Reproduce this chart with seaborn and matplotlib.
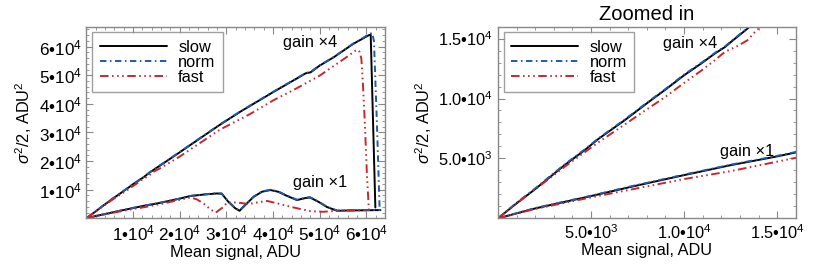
import numpy as np
import pandas as pd
import matplotlib
matplotlib.use("Agg")
import matplotlib.pyplot as plt
from matplotlib.ticker import FixedLocator, MultipleLocator, FuncFormatter
import seaborn as sns

# ---------------- data ----------------
# gain x4
x4_slow_x = [0, 1000, 2000, 3580, 4660, 5380, 6810, 8060, 8960, 10000, 10900, 11650, 12200, 12500,
             13300, 13600, 16000, 20000, 25000, 28600, 33000, 40000, 45000, 47000, 48000, 50000, 53000,
             57100, 59300, 60500, 60900, 61300, 61900]
x4_slow_y = [0, 1250, 2440, 4440, 5690, 6610, 8190, 9670, 10700, 11940, 12900, 13750, 14300, 14700,
             15700, 16100, 18700, 23100, 28700, 32700, 37300, 44100, 48800, 50700, 51000, 53400, 56300,
             60900, 62900, 64000, 64200, 40000, 3800]
x4_norm_x = [0, 1000, 2000, 3580, 4660, 5380, 6810, 8060, 8960, 10000, 10900, 11650, 12200, 12500,
             13300, 13600, 16000, 20000, 25000, 28600, 33000, 40000, 45000, 47000, 48000, 50000, 53000,
             57100, 59300, 60500, 61200, 61600, 62300, 62800]
x4_norm_y = [0, 1300, 2500, 4500, 5750, 6650, 8250, 9720, 10750, 12000, 12950, 13800, 14350, 14750,
             15750, 16150, 18800, 23200, 28800, 32800, 37400, 44200, 48900, 50800, 51100, 53500, 56400,
             61000, 63100, 64300, 64800, 62000, 30000, 3800]
x4_fast_x = [0, 1000, 2000, 3580, 5380, 6810, 8060, 8960, 10000, 10900, 11650, 12200, 12900, 13400,
             13800, 14200, 16000, 20000, 28600, 35000, 40000, 45000, 50000, 55700, 57300, 57900, 58500,
             58900, 59200, 59600, 60100, 60500]
x4_fast_y = [0, 1250, 2420, 4300, 6330, 7830, 9160, 10100, 11300, 12300, 13200, 13900, 14400, 14860,
             15550, 16100, 17700, 21600, 31000, 36400, 41200, 45400, 49900, 56300, 58200, 58900, 58200,
             55800, 48000, 35000, 15000, 3200]

# gain x1
x1_slow_x = [0, 2000, 5000, 7170, 10000, 12500, 14900, 16000, 20000, 22200, 25000, 27900, 29000,
             30400, 31900, 32800, 34000, 35800, 37600, 39400, 41100, 42900, 45100, 46900, 47900,
             49700, 51500, 53700, 56000, 63000]
x1_slow_y = [0, 830, 1860, 2640, 3610, 4440, 5140, 5500, 6900, 7800, 8300, 8700, 8600,
             5800, 3500, 2650, 4600, 7500, 9300, 9900, 9300, 7900, 6400, 7100, 7300,
             5800, 4000, 2650, 2750, 2900]
x1_norm_x = [0, 2000, 5000, 7170, 10000, 12500, 14900, 16000, 20000, 22200, 25000, 27900, 29000,
             30400, 31900, 32800, 34000, 35800, 37600, 39400, 41100, 42900, 45100, 46900, 47900,
             49700, 51500, 53700, 56000, 63000]
x1_norm_y = [0, 860, 1890, 2680, 3650, 4480, 5180, 5540, 6950, 7850, 8350, 8800, 8700,
             5900, 3600, 2750, 4700, 7600, 9400, 10000, 9400, 8000, 6500, 7200, 7400,
             5900, 4100, 2750, 2800, 2950]
x1_fast_x = [0, 2000, 5000, 10000, 12500, 16000, 20000, 22200, 23600, 25100, 26600, 27700, 29100,
             30200, 31500, 33000, 34700, 36700, 38700, 41500, 44400, 47900, 50700, 53700, 56000, 60500]
x1_fast_y = [0, 790, 1750, 3280, 3940, 5050, 6500, 7300, 6700, 5200, 3100, 2000, 3700,
             5600, 5600, 5400, 5000, 5600, 6100, 5000, 3800, 2550, 2300, 2650, 2800, 2900]

series_names = ["slow", "norm", "fast"]
left_ticks = [1e4, 2e4, 3e4, 4e4, 5e4, 6e4]
right_ticks = [5e3, 1e4, 1.5e4]

# ---------------- styling ----------------
sns.set_theme(style="white")
plt.rcParams["font.family"] = ["Liberation Sans", "DejaVu Sans"]
plt.rcParams["mathtext.fontset"] = "custom"
plt.rcParams["mathtext.rm"] = "Liberation Sans"
plt.rcParams["mathtext.it"] = "Liberation Sans:italic"
plt.rcParams["mathtext.bf"] = "Liberation Sans:bold"
plt.rcParams["text.color"] = "black"
plt.rcParams["axes.labelcolor"] = "black"
plt.rcParams["xtick.labelcolor"] = "black"
plt.rcParams["ytick.labelcolor"] = "black"

colors = {"slow": "#000000", "norm": "#1f5aa8", "fast": "#c8282c"}
styles = {"slow": "-",
          "norm": (0, (3.3, 1.8, 0.8, 1.8)),
          "fast": (0, (4.4, 1.8, 0.8, 1.8, 0.8, 1.8, 0.8, 1.8))}

curves = [
    ("slow", x1_slow_x, x1_slow_y), ("norm", x1_norm_x, x1_norm_y),
    ("fast", x1_fast_x, x1_fast_y),
    ("slow", x4_slow_x, x4_slow_y), ("norm", x4_norm_x, x4_norm_y),
    ("fast", x4_fast_x, x4_fast_y),
]

fig = plt.figure(figsize=(8.23, 2.74), dpi=100)
ax1 = fig.add_axes([0.105, 0.203, 0.363, 0.700])
ax2 = fig.add_axes([0.605, 0.203, 0.362, 0.700])


def sci_fmt(decimals):
    def f(v, pos):
        if v == 0:
            return ""
        e = int(np.floor(np.log10(abs(v)) + 1e-9))
        m = v / 10 ** e
        ms = f"{m:.{decimals}f}"
        return ms + "\u2022" + "10$^{" + str(e) + "}$"
    return FuncFormatter(f)


for ax in (ax1, ax2):
    for name, xs, ys in curves:
        df = pd.DataFrame({"x": xs, "y": ys})
        sns.lineplot(data=df, x="x", y="y", ax=ax, sort=False, estimator=None,
                     color=colors[name], linestyle=styles[name], linewidth=1.4)
    for s in ax.spines.values():
        s.set_color("#888888")
        s.set_linewidth(1.0)
    ax.tick_params(which="both", direction="in", top=True, right=True,
                   bottom=True, left=True, color="#888888", labelcolor="black")
    ax.tick_params(which="major", length=5, width=0.8)
    ax.tick_params(which="minor", length=2.5, width=0.6)
    ax.set_xlabel("Mean signal, ADU", fontsize=11.8, labelpad=1, color="black")
    ax.set_ylabel(r"$\sigma^2$/2, ADU$^2$", fontsize=11.8, labelpad=3, color="black")

# left panel
ax1.set_xlim(0, 64000)
ax1.set_ylim(0, 67000)
ax1.xaxis.set_major_locator(FixedLocator(left_ticks))
ax1.yaxis.set_major_locator(FixedLocator(left_ticks))
ax1.xaxis.set_minor_locator(MultipleLocator(2000))
ax1.yaxis.set_minor_locator(MultipleLocator(2000))
ax1.xaxis.set_major_formatter(sci_fmt(0))
ax1.yaxis.set_major_formatter(sci_fmt(0))
ax1.tick_params(which="major", labelsize=12.3)
ax1.text(48000, 61300, "gain \u00d74", fontsize=11.8, ha="center", va="center", color="black")
ax1.text(50000, 12600, "gain \u00d71", fontsize=11.8, ha="center", va="center", color="black")

# right panel
ax2.set_xlim(0, 16000)
ax2.set_ylim(0, 16000)
ax2.xaxis.set_major_locator(FixedLocator(right_ticks))
ax2.yaxis.set_major_locator(FixedLocator(right_ticks))
ax2.xaxis.set_minor_locator(MultipleLocator(1000))
ax2.yaxis.set_minor_locator(MultipleLocator(1000))
ax2.xaxis.set_major_formatter(sci_fmt(1))
ax2.yaxis.set_major_formatter(sci_fmt(1))
ax2.tick_params(which="major", labelsize=11.8)
ax2.text(10300, 14600, "gain \u00d74", fontsize=11.8, ha="center", va="center", color="black")
ax2.text(13400, 5550, "gain \u00d71", fontsize=11.8, ha="center", va="center", color="black")
ax2.set_title("Zoomed in", fontsize=14.5, pad=5, color="black")

# legends
for ax in (ax1, ax2):
    handles = [matplotlib.lines.Line2D([], [], color=colors[n], linestyle=styles[n], linewidth=1.4)
               for n in series_names]
    leg = ax.legend(handles, series_names, loc="upper left", fontsize=11.8, frameon=True,
                    fancybox=False, edgecolor="#888888", handlelength=4.1, labelspacing=0.0,
                    borderpad=0.45, handletextpad=0.7, borderaxespad=0.35, labelcolor="black")
    leg.get_frame().set_linewidth(1.0)

fig.savefig("out.png", dpi=100)
